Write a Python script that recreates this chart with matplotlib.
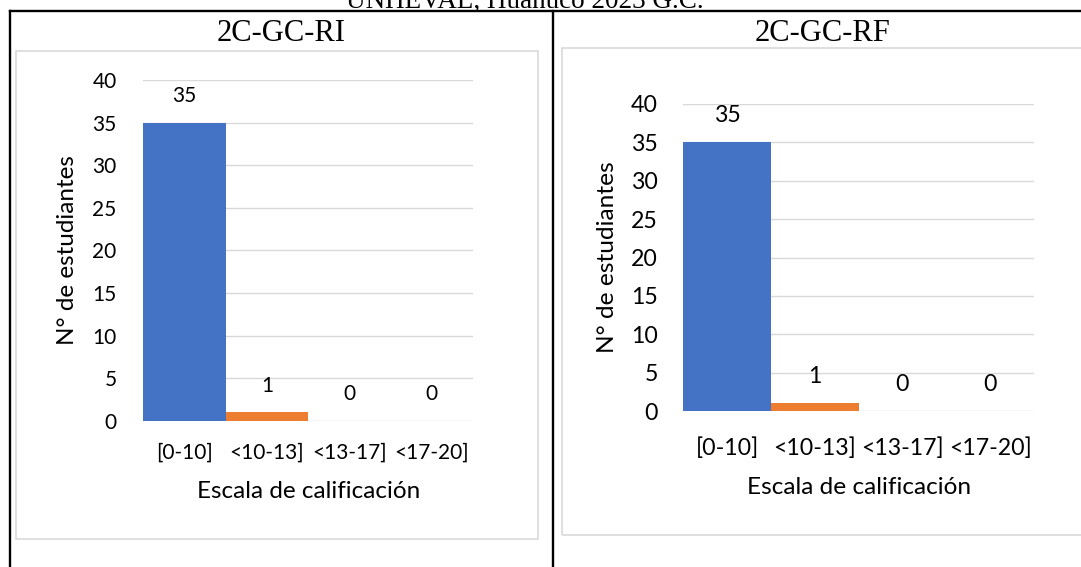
import numpy as np
import matplotlib.pyplot as plt
from matplotlib.lines import Line2D
from matplotlib.patches import Rectangle

# calificaciones por rango, grupo control 2C
categorias = ["[0-10]", "<10-13]", "<13-17]", "<17-20]"]
valores_ri = [35, 1, 0, 0]
valores_rf = [35, 1, 0, 0]
titulos = ["2C-GC-RI", "2C-GC-RF"]
yticks = [0, 5, 10, 15, 20, 25, 30, 35, 40]

colores = ["#4472C4", "#ED7D31", "#A5A5A5", "#FFC000"]
gris = "#D9D9D9"

W, H = 1081, 567
fig = plt.figure(figsize=(W / 100, H / 100), dpi=100)


def fx(px):
    return px / W


def fy(py):
    return 1 - py / H


def linea(x0, y0, x1, y1, **kw):
    fig.add_artist(Line2D([fx(x0), fx(x1)], [fy(y0), fy(y1)],
                          transform=fig.transFigure, **kw))


def marco(x0, y0, x1, y1):
    fig.add_artist(Rectangle((fx(x0), fy(y1)), fx(x1) - fx(x0), fy(y0) - fy(y1),
                             transform=fig.transFigure, fill=False,
                             edgecolor=gris, lw=1.2))


# bordes de la tabla
linea(10.4, 10.7, 1081, 10.7, color="black", lw=1.7)
linea(10.4, 10.7, 10.4, 567, color="black", lw=1.7)
linea(552.7, 10.7, 552.7, 567, color="black", lw=1.7)

# texto cortado encima de la tabla
fig.text(fx(524.5), fy(8), "UNHEVAL, Huánuco 2023 G.C.", family="Liberation Serif",
         fontsize=19.5, ha="center", va="baseline")

fig.text(fx(281.5), fy(40.7), titulos[0], family="Liberation Serif",
         fontsize=22, ha="center", va="baseline")
fig.text(fx(823), fy(40.7), titulos[1], family="Liberation Serif",
         fontsize=22, ha="center", va="baseline")

# marcos de cada grafico
marco(15.5, 50.7, 538.3, 539.3)
marco(562.3, 48.3, 1090, 534.5)


def grafico(ax, valores, fs, fs_lab, ypad, xpad, xlab_y, ylab_x):
    x = np.arange(len(categorias))
    ax.bar(x, valores, width=1.0, color=colores, zorder=3)
    ax.set_xlim(-0.5, len(categorias) - 0.5)
    ax.set_ylim(0, 40)
    ax.set_yticks(yticks)
    ax.set_xticks(x)
    ax.set_xticklabels(categorias)
    for s in ax.spines.values():
        s.set_visible(False)
    ax.grid(axis="y", color=gris, lw=1.0, zorder=0)
    ax.set_axisbelow(True)
    ax.tick_params(axis="y", length=0, pad=ypad, labelsize=fs)
    ax.tick_params(axis="x", length=0, pad=xpad, labelsize=fs)
    for xi, v in zip(x, valores):
        ax.annotate(str(v), (xi, v), xytext=(0, 19), textcoords="offset points",
                    ha="center", va="center", fontsize=fs)
    ax.set_xlabel("Escala de calificación", fontsize=fs_lab)
    ax.xaxis.label.set_va("center")
    ax.xaxis.set_label_coords(0.5, xlab_y)
    ax.set_ylabel("N° de estudiantes", fontsize=fs_lab)
    ax.yaxis.label.set_va("center")
    ax.yaxis.set_label_coords(ylab_x, 0.5)


plt.rcParams["font.family"] = ["Lato", "DejaVu Sans"]

ax1 = fig.add_axes([fx(143.3), fy(420.7), (473 - 143.3) / W, (420.7 - 80) / H])
ax2 = fig.add_axes([fx(683.2), fy(411), (1034 - 683.2) / W, (411 - 104) / H])

grafico(ax1, valores_ri, 15, 17.5, 19.2, 16, -0.209, -0.2293)
grafico(ax2, valores_rf, 16.7, 17.6, 18.3, 19, -0.2476, -0.2152)

fig.savefig("out.png", dpi=100)
